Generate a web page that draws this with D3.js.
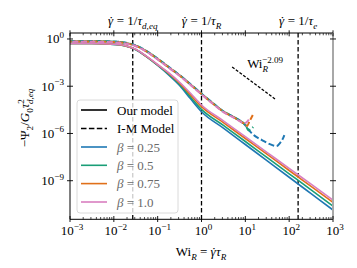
<!DOCTYPE html>
<html><head><meta charset="utf-8">
<script src="https://cdn.jsdelivr.net/npm/d3@7"></script>
<style>
html,body{margin:0;padding:0;background:#fff;}
text{font-family:"Liberation Serif","Times New Roman",serif;}
</style></head>
<body><div id="chart"></div>
<script>
// ---------- data (log10 values) ----------
const solidLogWi = [-3,-2.5,-2,-1.75,-1.5,-1.25,-1,-0.75,-0.5,-0.25,0,0.5,1,1.5,2,2.5,3];
const solidBlue   = [-0.29,-0.29,-0.34,-0.43,-0.68,-1.14,-1.68,-2.28,-2.95,-3.80,-4.62,-5.66,-6.70,-7.74,-8.78,-9.82,-10.86];
const solidGreen  = [-0.29,-0.29,-0.34,-0.42,-0.67,-1.13,-1.66,-2.23,-2.88,-3.68,-4.47,-5.49,-6.51,-7.54,-8.56,-9.58,-10.61];
const solidOrange = [-0.29,-0.29,-0.33,-0.42,-0.66,-1.12,-1.64,-2.18,-2.80,-3.55,-4.30,-5.31,-6.32,-7.33,-8.35,-9.36,-10.37];
const solidPink   = [-0.29,-0.29,-0.33,-0.41,-0.65,-1.11,-1.62,-2.14,-2.75,-3.45,-4.19,-5.20,-6.20,-7.21,-8.22,-9.22,-10.23];

const imLogWi = [-3,-2.5,-2,-1.75,-1.5,-1.25,-1,-0.75,-0.5,-0.25,0,0.25,0.5,0.75,0.9];
const imBase  = [-0.16,-0.16,-0.19,-0.26,-0.44,-0.80,-1.28,-1.80,-2.32,-2.90,-3.50,-4.08,-4.62,-5.00,-5.25];
const imPinkTailX   = [0.97,1.02,1.08];
const imPinkTailY   = [-5.36,-5.30,-5.12];
const imOrangeTailX = [1.0,1.04,1.1,1.17];
const imOrangeTailY = [-5.42,-5.52,-5.2,-4.83];
const imGreenTailX  = [1.0,1.07,1.12,1.18];
const imGreenTailY  = [-5.45,-5.80,-5.74,-5.59];
const imBlueTailX   = [1.0,1.1,1.24,1.38,1.56,1.72,1.79,1.84,1.89];
const imBlueTailY   = [-5.48,-5.85,-6.20,-6.42,-6.68,-6.80,-6.61,-6.42,-6.10];

const betas  = ["0.25","0.5","0.75","1.0"];
const colors = ["#1f78b4","#1a9e77","#e0701a","#d97fc0"];

const xDecades = [-3,-2,-1,0,1,2,3];
const yDecades = [0,-3,-6,-9];
const vLinesWi = [0.027,1,160];
const vLineLabels = ["d,eq","R","e"];
const slopeWi  = [5,47.5];
const slopeVal = [-1.78,-3.81];

// ---------- setup ----------
const W=357,H=268;
const svg=d3.select("#chart").append("svg").attr("width",W).attr("height",H)
  .attr("font-family","'Liberation Serif','Times New Roman',serif");
svg.append("rect").attr("width",W).attr("height",H).attr("fill","#fff");
const x=d3.scaleLog().domain([1e-3,1e3]).range([70,333]);
const y=d3.scaleLog().domain([Math.pow(10,-11.45),Math.pow(10,0.38)]).range([219.3,33]);
const P=v=>Math.pow(10,v);
const FS=13;

function mtext(g,parts,attrs){
  const t=g.append("text").attr("font-size",FS);
  for(const k in attrs) t.attr(k,attrs[k]);
  let shift=0;
  parts.forEach(p=>{
    const target = p.sub?4:(p.sup?-5.5:0);
    const ts=t.append("tspan").text(p.t);
    if(target!==shift) ts.attr("dy",target-shift);
    shift=target;
    if(p.sub||p.sup) ts.attr("font-size",FS*0.7);
    if(p.it) ts.attr("font-style","italic");
    if(p.dx) ts.attr("dx",p.dx);
  });
  return t;
}
const gdot=[{t:"γ",it:true},{t:"˙",dx:-4}];

// vertical dashed lines
vLinesWi.forEach(v=>{
  svg.append("line").attr("x1",x(v)).attr("x2",x(v)).attr("y1",33).attr("y2",219.3)
    .attr("stroke","#000").attr("stroke-width",1.3).attr("stroke-dasharray","4.5,2.5");
});

// curves
const line=d3.line().x(d=>x(P(d[0]))).y(d=>y(P(d[1]))).curve(d3.curveMonotoneX);
const solids=[solidBlue,solidGreen,solidOrange,solidPink];
const tailsX=[imBlueTailX,imGreenTailX,imOrangeTailX,imPinkTailX];
const tailsY=[imBlueTailY,imGreenTailY,imOrangeTailY,imPinkTailY];
const imOffsets=[0.03,0.02,0,-0.02];
[0,1,2,3].forEach(i=>{
  const pts=solidLogWi.map((w,j)=>[w,solids[i][j]]);
  svg.append("path").attr("d",line(pts)).attr("fill","none").attr("stroke",colors[i]).attr("stroke-width",1.6);
});
[0,1,2,3].forEach(i=>{
  const pts=imLogWi.map((w,j)=>[w,imBase[j]+imOffsets[i]]).concat(tailsX[i].map((w,j)=>[w,tailsY[i][j]]));
  svg.append("path").attr("d",d3.line().x(d=>x(P(d[0]))).y(d=>y(P(d[1]))).curve(d3.curveCatmullRom)(pts))
    .attr("fill","none").attr("stroke",colors[i]).attr("stroke-width",2)
    .attr("stroke-dasharray","6,2.6").attr("stroke-dashoffset",i*2.1);
});

// slope indicator
svg.append("line").attr("x1",x(slopeWi[0])).attr("y1",y(P(slopeVal[0])))
  .attr("x2",x(slopeWi[1])).attr("y2",y(P(slopeVal[1])))
  .attr("stroke","#000").attr("stroke-width",1.3).attr("stroke-dasharray","3,1.6");
mtext(svg,[{t:"Wi"},{t:"R",sub:true,it:true},{t:"−2.09",sup:true,dx:-6}],{x:x(slopeWi[0])+15,y:y(P(slopeVal[0]))+1});

// legend
const lg=svg.append("g");
lg.append("rect").attr("x",77).attr("y",100).attr("width",101).attr("height",113).attr("rx",3)
  .attr("fill","#fff").attr("fill-opacity",0.8).attr("stroke","#d0d0d0").attr("stroke-width",0.8);
const rows=[110,128.5,147,165.3,183.6,202];
lg.append("line").attr("x1",81).attr("x2",107).attr("y1",rows[0]).attr("y2",rows[0]).attr("stroke","#000").attr("stroke-width",1.6);
lg.append("line").attr("x1",81).attr("x2",107).attr("y1",rows[1]).attr("y2",rows[1]).attr("stroke","#000").attr("stroke-width",1.6).attr("stroke-dasharray","5.5,2.4");
mtext(lg,[{t:"Our model"}],{x:117,y:rows[0]+4.5});
mtext(lg,[{t:"I-M Model"}],{x:117,y:rows[1]+4.5});
betas.forEach((b,i)=>{
  const r=rows[i+2];
  lg.append("line").attr("x1",81).attr("x2",107).attr("y1",r).attr("y2",r).attr("stroke",colors[i]).attr("stroke-width",1.6);
  mtext(lg,[{t:"β",it:true},{t:" = "+b}],{x:117,y:r+4.5,fill:"#6a6a6a"});
});

// axes: minor ticks
const minor=[];
for(let e=-3;e<3;e++) for(let m=2;m<10;m++) minor.push(m*Math.pow(10,e));
const ax=svg.append("g");
ax.append("line").attr("x1",70).attr("x2",333).attr("y1",219.3).attr("y2",219.3).attr("stroke","#000").attr("stroke-width",1);
ax.append("line").attr("x1",70).attr("x2",333).attr("y1",33).attr("y2",33).attr("stroke","#000").attr("stroke-width",1);
ax.append("line").attr("x1",70).attr("x2",70).attr("y1",33).attr("y2",219.3).attr("stroke","#000").attr("stroke-width",1);
ax.append("line").attr("x1",333).attr("x2",333).attr("y1",33).attr("y2",219.3).attr("stroke","#a8a8a8").attr("stroke-width",2);
minor.forEach(v=>{
  ax.append("line").attr("x1",x(v)).attr("x2",x(v)).attr("y1",219.3).attr("y2",217).attr("stroke","#000").attr("stroke-width",0.7);
  ax.append("line").attr("x1",x(v)).attr("x2",x(v)).attr("y1",33).attr("y2",35.3).attr("stroke","#000").attr("stroke-width",0.7);
});
xDecades.forEach(e=>{
  const v=P(e);
  ax.append("line").attr("x1",x(v)).attr("x2",x(v)).attr("y1",216).attr("y2",222).attr("stroke","#000").attr("stroke-width",0.9);
  ax.append("line").attr("x1",x(v)).attr("x2",x(v)).attr("y1",30.3).attr("y2",36.3).attr("stroke","#000").attr("stroke-width",0.9);
  mtext(ax,[{t:"10"},{t:(e<0?"−":"")+Math.abs(e),sup:true}],{x:x(v)+2,y:235,"text-anchor":"middle"});
});
yDecades.forEach(e=>{
  const v=P(e);
  ax.append("line").attr("x1",67).attr("x2",73).attr("y1",y(v)).attr("y2",y(v)).attr("stroke","#000").attr("stroke-width",0.9);
  ax.append("line").attr("x1",330).attr("x2",336).attr("y1",y(v)).attr("y2",y(v)).attr("stroke","#000").attr("stroke-width",0.9);
  mtext(ax,[{t:"10"},{t:(e<0?"−":"")+Math.abs(e),sup:true}],{x:64,y:y(v)+4.5,"text-anchor":"end"});
});

// top labels
vLinesWi.forEach((v,i)=>{
  mtext(svg,gdot.concat([{t:" = 1/"},{t:"τ",it:true},{t:vLineLabels[i],sub:true,it:true}]),{x:x(v),y:25,"text-anchor":"middle"});
});

// axis labels
mtext(svg,[{t:"Wi"},{t:"R",sub:true,it:true},{t:" = "}].concat(gdot,[{t:"τ",it:true},{t:"R",sub:true,it:true}]),{x:201,y:256,"text-anchor":"middle"});
const yl=svg.append("g").attr("transform","translate(29,118) rotate(-90)");
mtext(yl,[{t:"−Ψ"},{t:"2",sub:true},{t:"/"},{t:"G",it:true},{t:"0",sub:true},{t:"τ",it:true},{t:"2",sup:true},{t:"d,eq",sub:true,it:true,dx:-5}],{x:0,y:0,"text-anchor":"middle"});
</script></body></html>
